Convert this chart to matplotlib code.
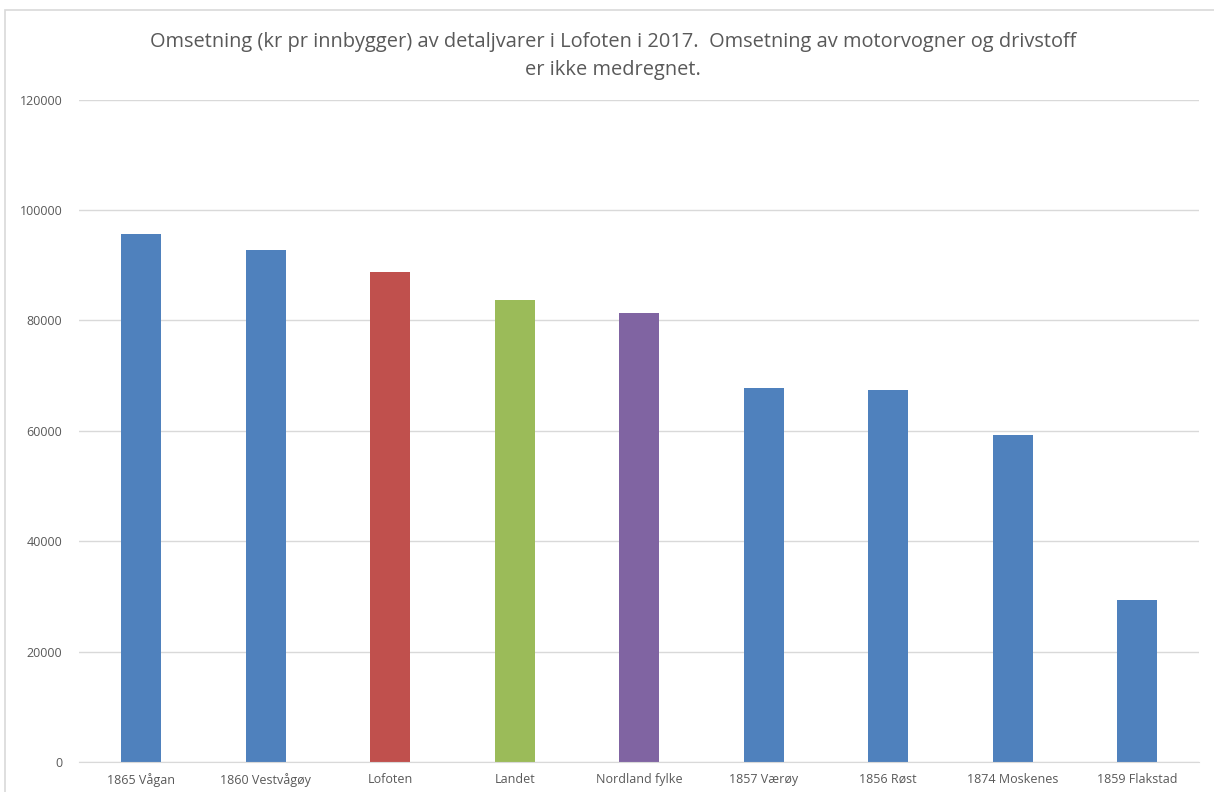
import matplotlib.pyplot as plt
from matplotlib.patches import Rectangle

# data
kommuner = ['1865 Vågan', '1860 Vestvågøy', 'Lofoten', 'Landet', 'Nordland fylke',
            '1857 Værøy', '1856 Røst', '1874 Moskenes', '1859 Flakstad']
omsetning = [95700, 92800, 88800, 83700, 81400, 67800, 67400, 59300, 29400]
farger = ['#4f81bd', '#4f81bd', '#c0504d', '#9bbb59', '#8064a2',
          '#4f81bd', '#4f81bd', '#4f81bd', '#4f81bd']

plt.rcParams['font.family'] = ['Open Sans', 'DejaVu Sans']

fig = plt.figure(figsize=(12.14, 7.92), dpi=100)
ax = fig.add_axes([0.065, 0.038, 0.923, 0.836])

# chart border like in Excel
fig.patches.append(Rectangle((5 / 1214, -0.05), 1.2, 1 - 10 / 792 + 0.05,
                             transform=fig.transFigure, fill=False,
                             edgecolor='#d9d9d9', linewidth=1.2))

x = range(len(kommuner))
ax.bar(x, omsetning, width=0.32, color=farger, zorder=2)

ax.set_xlim(-0.5, len(kommuner) - 0.5)
ax.set_ylim(0, 120000)
ax.set_yticks(range(0, 120001, 20000))
ax.yaxis.grid(True, color='#d9d9d9', linewidth=1, zorder=0)
ax.set_xticks(list(x))
ax.set_xticklabels(kommuner)
ax.tick_params(axis='both', length=0, labelsize=9, colors='#595959')
ax.tick_params(axis='y', pad=12)
ax.tick_params(axis='x', pad=8)
for s in ['top', 'right', 'left']:
    ax.spines[s].set_visible(False)
ax.spines['bottom'].set_color('#d9d9d9')

fig.text(0.505, 0.929, 'Omsetning (kr pr innbygger) av detaljvarer i Lofoten i 2017.  Omsetning av motorvogner og drivstoff\ner ikke medregnet.',
         ha='center', va='center', fontsize=14.4, color='#595959', linespacing=1.5)

plt.savefig('out.png', dpi=100)
